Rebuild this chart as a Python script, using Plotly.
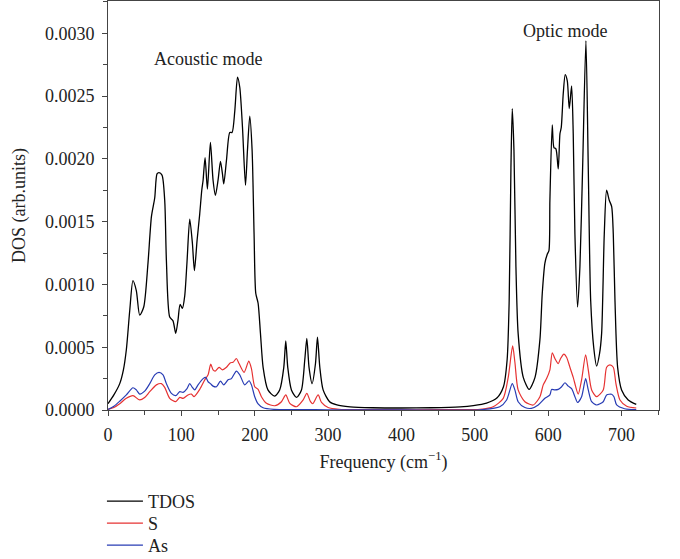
import plotly.graph_objects as go

# ---- data ----
tdos_f = [0, 8, 16, 21, 25, 29.6, 34, 38.6, 43.2, 48.7, 54.5, 59.2, 63.7, 66.8, 69.5, 73.6, 77.3, 79.6,
          84.1, 88.6, 92.3, 95.5, 98.2, 101.4, 104.6, 107.7, 111.4, 115, 117.8, 121.4, 125, 127.8, 129.6,
          132.3, 135.5, 139.6, 143.2, 146.4, 150, 153.3, 156, 157.8, 161.5, 166, 169.1, 172.8, 176.5,
          179.6, 183.3, 187.4, 190.1, 193.2, 196.4, 199.1, 201.4, 204.6, 207.8, 211.4, 218, 227, 234,
          239.6, 242.3, 245, 250, 257, 263.7, 268.2, 271, 274, 278.2, 282.8, 285.5, 288.7, 293.2, 302,
          312, 330, 360, 400, 440, 480, 498, 516, 530, 539, 544, 546.8, 549.2, 551, 553.3, 556, 559,
          566, 574, 582, 588.7, 591.9, 595.5, 598.7, 601, 602.3, 605.5, 607.8, 610.5, 613.7, 616,
          617.8, 620.5, 623.2, 626, 628.7, 631.9, 634.1, 636.4, 640, 643.2, 646.9, 651.4, 654.6,
          657.9, 662, 666, 670, 672.8, 676.4, 679.6, 683.2, 686.5, 688.7, 691, 694.6, 700, 709, 720]
tdos_v = [0.00005, 0.00012, 0.00021, 0.00032, 0.00048, 0.00079, 0.00103, 0.00095, 0.000755, 0.00082,
          0.00117, 0.00154, 0.00169, 0.00188, 0.00189, 0.00187, 0.00167, 0.00119, 0.00074, 0.00071,
          0.00061, 0.00072, 0.00084, 0.00081, 0.00091, 0.00118, 0.00152, 0.00133, 0.00111, 0.00135,
          0.00156, 0.00175, 0.00183, 0.00201, 0.00176, 0.00213, 0.00183, 0.00171, 0.00183, 0.00198,
          0.00188, 0.00180, 0.00199, 0.00221, 0.00221, 0.00238, 0.00265, 0.00257, 0.00225, 0.00179,
          0.00207, 0.00234, 0.00207, 0.00140, 0.00093, 0.00085, 0.00061, 0.00034, 0.00016, 0.00011,
          0.00016, 0.00034, 0.00055, 0.00034, 0.00016, 0.0001, 0.00016, 0.0004, 0.00057, 0.00034,
          0.00021, 0.00037, 0.00058, 0.00034, 0.00016, 0.000066, 0.00004, 0.000025, 0.000018,
          0.000016, 0.000018, 0.000025, 0.000035, 0.000055, 0.000095, 0.000185, 0.0004, 0.00087,
          0.00193, 0.0024, 0.00207, 0.00114, 0.00061, 0.00026, 0.000164, 0.00026, 0.00056, 0.00093,
          0.00117, 0.00124, 0.00127, 0.00167, 0.00227, 0.00209, 0.00208, 0.00192, 0.0022, 0.00225,
          0.00252, 0.00267, 0.00262, 0.0024, 0.00258, 0.0022, 0.0014, 0.00082, 0.00114, 0.00193,
          0.00294, 0.00193, 0.00087, 0.0005, 0.00035, 0.00045, 0.00061, 0.0014, 0.00175, 0.00167,
          0.00162, 0.0014, 0.00087, 0.00034, 0.00016, 0.00008, 0.000045]

s_f = [0, 8, 16, 25, 34, 43.2, 50, 56.9, 66, 72.8, 77.3, 84.1, 92.3, 97.8, 102.3, 109, 113.7, 117.3,
       125, 131.9, 136.4, 140, 143.2, 146, 151.4, 156, 161.5, 166.9, 170.5, 175, 178.6, 185.5, 191.9,
       195.5, 200, 204.6, 209.1, 216, 227.3, 236.4, 242.3, 247.8, 257, 266, 271, 276, 279, 286.4, 291,
       300, 315, 350, 420, 480, 507, 525, 538.7, 545.5, 551.5, 554.6, 559, 568.2, 579.6, 588.7, 593.2,
       597.8, 602.3, 605.5, 609.1, 613.7, 616.9, 621.4, 625, 629.6, 634.1, 640.9, 645.5, 651, 654.6,
       659.2, 666, 675, 679.6, 684.1, 688.7, 692.3, 697.8, 707, 720]
s_v = [0.000005, 0.00002, 0.00005, 0.000093, 0.000114, 0.00008, 0.0001, 0.000146, 0.0002, 0.00021,
       0.00018, 0.000093, 0.000066, 0.0001, 0.000093, 0.00012, 0.000127, 0.000106, 0.000164, 0.00024,
       0.00028, 0.000365, 0.00032, 0.00031, 0.00034, 0.00032, 0.00034, 0.000376, 0.00038, 0.00041,
       0.00037, 0.0003, 0.00039, 0.00033, 0.000185, 0.000164, 0.000106, 0.000053, 0.000034, 0.000066,
       0.00012, 0.000053, 0.000026, 0.00008, 0.000132, 0.000066, 0.00005, 0.00012, 0.00006, 0.00002,
       0.000006, 0.000003, 0.000002, 0.000003, 0.000006, 0.000026, 0.000093, 0.00026, 0.00051, 0.00038,
       0.00016, 0.000066, 0.00004, 0.000106, 0.0002, 0.00025, 0.00032, 0.000455, 0.00041, 0.00037,
       0.00041, 0.000445, 0.00042, 0.00034, 0.00026, 0.000127, 0.00024, 0.00044, 0.00032, 0.00016,
       0.000106, 0.00016, 0.00034, 0.00036, 0.00034, 0.00021, 0.00008, 0.00003, 0.000016]

as_f = [0, 8, 16, 25, 34, 38.6, 43.2, 50, 56.9, 63.7, 69.6, 75, 79.6, 86.4, 92.3, 97.8, 102.3, 107.7,
        111.4, 115, 118.2, 122.7, 129.6, 133.2, 136.4, 139.6, 143.2, 147.8, 153.3, 157.8, 163.7, 168.2,
        175, 179.6, 186.4, 192.3, 195.5, 200, 204.6, 211.4, 226, 260, 300, 400, 507, 534, 543.3, 551,
        554.6, 559, 568.2, 577, 586.4, 595.5, 602.3, 604.6, 609, 613.7, 618.3, 622.8, 627.3, 631.9,
        636.4, 640, 645.5, 651, 654.6, 659.2, 666, 675, 679.6, 686.4, 689.6, 693.3, 704, 720]
as_v = [0.000005, 0.00003, 0.00007, 0.00012, 0.000177, 0.00016, 0.000127, 0.00015, 0.00021, 0.00028,
        0.0003, 0.00028, 0.00021, 0.000132, 0.000114, 0.000146, 0.00014, 0.00017, 0.00021, 0.00018,
        0.00016, 0.0002, 0.00025, 0.00026, 0.000225, 0.00021, 0.00019, 0.000185, 0.00023, 0.0002,
        0.00024, 0.00025, 0.00031, 0.00028, 0.0002, 0.000233, 0.0002, 0.000106, 0.000048, 0.000018,
        0.000005, 0.000003, 0.000002, 0.000001, 0.000002, 0.000026, 0.00008, 0.00021, 0.00016,
        0.000066, 0.00002, 0.000013, 0.00004, 0.000093, 0.00012, 0.000164, 0.00016, 0.000164,
        0.000185, 0.000217, 0.00019, 0.00017, 0.000106, 0.00006, 0.000106, 0.00025, 0.00016,
        0.000066, 0.00004, 0.000066, 0.00012, 0.000125, 0.000106, 0.00004, 0.00001, 0.000003]

x_ticks = [0, 100, 200, 300, 400, 500, 600, 700]
y_ticks = [0.0, 0.0005, 0.0010, 0.0015, 0.0020, 0.0025, 0.0030]

FONT = "Liberation Serif, Times New Roman, serif"

fig = go.Figure()
fig.add_trace(go.Scatter(x=tdos_f, y=tdos_v, mode="lines", name="TDOS", legend="legend",
                         line=dict(color="#000000", width=1.3, shape="spline", smoothing=0.7)))
fig.add_trace(go.Scatter(x=s_f, y=s_v, mode="lines", name="S", legend="legend2",
                         line=dict(color="#e63232", width=1.2, shape="spline", smoothing=0.7)))
fig.add_trace(go.Scatter(x=as_f, y=as_v, mode="lines", name="As", legend="legend3",
                         line=dict(color="#283cb4", width=1.2, shape="spline", smoothing=0.7)))

fig.add_annotation(x=136.6, y=0.002796, text="Acoustic mode", showarrow=False,
                   font=dict(family=FONT, size=18, color="#222"))
fig.add_annotation(x=622.8, y=0.003021, text="Optic mode", showarrow=False,
                   font=dict(family=FONT, size=18, color="#222"))

leg_common = dict(x=-0.011, xanchor="left", yanchor="top", orientation="v",
                  font=dict(family=FONT, size=18, color="#222"), bgcolor="rgba(0,0,0,0)",
                  tracegroupgap=0, itemwidth=36)

fig.update_layout(
    width=680, height=559,
    margin=dict(l=108, r=21, t=1, b=149, autoexpand=False),
    paper_bgcolor="white", plot_bgcolor="white",
    font=dict(family=FONT, size=18, color="#222"),
    showlegend=True,
    legend=dict(y=-0.1785, **leg_common),
    legend2=dict(y=-0.2323, **leg_common),
    legend3=dict(y=-0.2861, **leg_common),
    xaxis=dict(range=[0, 751], tickvals=x_ticks, ticks="outside", ticklen=5, tickwidth=1,
               tickcolor="#444", showline=True, linecolor="#444", linewidth=1, mirror=True,
               showgrid=False, zeroline=False, automargin=False, ticklabelstandoff=3,
               minor=dict(dtick=50, tick0=0, ticks="outside", ticklen=4, tickcolor="#444", showgrid=False),
               title=dict(text="Frequency (cm<sup>−1</sup>)", standoff=11,
                          font=dict(family=FONT, size=18))),
    yaxis=dict(range=[0, 0.003257], tickvals=y_ticks, tickformat=".4f", ticks="outside", ticklen=5,
               tickwidth=1, tickcolor="#444", showline=True, linecolor="#444", linewidth=1,
               mirror=True, showgrid=False, zeroline=False, automargin=False, ticklabelstandoff=4,
               minor=dict(dtick=0.00025, tick0=0, ticks="outside", ticklen=4, tickcolor="#444",
                          showgrid=False),
               title=dict(text="DOS (arb.units)", standoff=14, font=dict(family=FONT, size=18))),
)

fig.write_html("out.html", config={"displayModeBar": False},
               post_script="document.body.style.margin='0';")
